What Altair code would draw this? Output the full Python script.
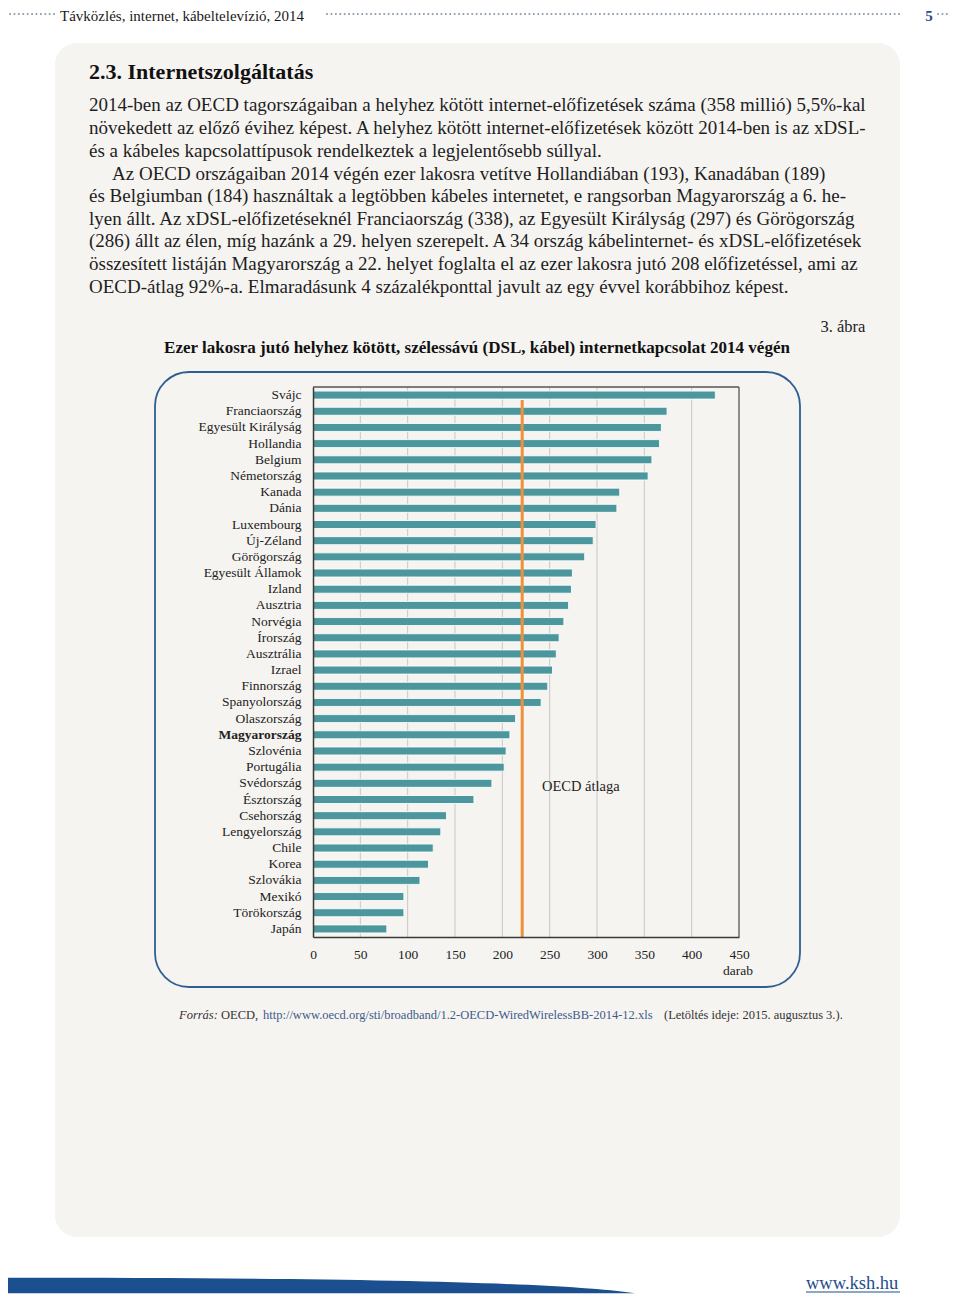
import altair as alt
import pandas as pd

# ---------------- data ----------------
countries = ["Svájc", "Franciaország", "Egyesült Királyság", "Hollandia", "Belgium",
             "Németország", "Kanada", "Dánia", "Luxembourg", "Új-Zéland", "Görögország",
             "Egyesült Államok", "Izland", "Ausztria", "Norvégia", "Írország", "Ausztrália",
             "Izrael", "Finnország", "Spanyolország", "Olaszország", "Magyarország",
             "Szlovénia", "Portugália", "Svédország", "Észtország", "Csehország",
             "Lengyelország", "Chile", "Korea", "Szlovákia", "Mexikó", "Törökország", "Japán"]
values = [425, 374, 368, 366, 358, 354, 324, 321, 299, 296, 287, 274, 273, 270, 265, 260,
          257, 253, 248, 241, 214, 208, 204, 202, 189, 170, 141, 135, 127, 122, 113, 96, 96, 78]
oecd_avg = 221
x_ticks = [0, 50, 100, 150, 200, 250, 300, 350, 400, 450]
grid_vals = [50, 100, 150, 200, 250, 300, 350, 400]

header = "Távközlés, internet, kábeltelevízió, 2014"
page_no = "5"
section = "2.3. Internetszolgáltatás"
para_lines = [
    "2014-ben az OECD tagországaiban a helyhez kötött internet-előfizetések száma (358 millió) 5,5%-kal",
    "növekedett az előző évihez képest. A helyhez kötött internet-előfizetések között 2014-ben is az xDSL-",
    "és a kábeles kapcsolattípusok rendelkeztek a legjelentősebb súllyal.",
    "Az OECD országaiban 2014 végén ezer lakosra vetítve Hollandiában (193), Kanadában (189)",
    "és Belgiumban (184) használtak a legtöbben kábeles internetet, e rangsorban Magyarország a 6. he-",
    "lyen állt. Az xDSL-előfizetéseknél Franciaország (338), az Egyesült Királyság (297) és Görögország",
    "(286) állt az élen, míg hazánk a 29. helyen szerepelt. A 34 ország kábelinternet- és xDSL-előfizetések",
    "összesített listáján Magyarország a 22. helyet foglalta el az ezer lakosra jutó 208 előfizetéssel, ami az",
    "OECD-átlag 92%-a. Elmaradásunk 4 százalékponttal javult az egy évvel korábbihoz képest.",
]
fig_no = "3. ábra"
chart_title = "Ezer lakosra jutó helyhez kötött, szélessávú (DSL, kábel) internetkapcsolat 2014 végén"
avg_label = "OECD átlaga"
unit_label = "darab"
src_parts = ["Forrás:", "OECD,", "http://www.oecd.org/sti/broadband/1.2-OECD-WiredWirelessBB-2014-12.xls",
             "(Letöltés ideje: 2015. augusztus 3.)."]
site = "www.ksh.hu"

SERIF = "Liberation Serif"
OX, OY = 313, 387          # page position of the plot origin
W, H = 426, 550

df = pd.DataFrame({"country": countries, "value": values})
one = pd.DataFrame({"a": [0]})
grid_df = pd.DataFrame({"value": grid_vals})


def X(px):
    return alt.value(px - OX)


def Y(py):
    return alt.value(py - OY)


def txt(s, x, y, size=17, weight="normal", color="#222222", align="left", style="normal"):
    return alt.Chart(one).mark_text(
        text=s, fontSize=size, fontWeight=weight, color=color, align=align,
        baseline="middle", font=SERIF, fontStyle=style
    ).encode(x=X(x), y=Y(y))


def box(x1, y1, x2, y2, fill, stroke=None, sw=0, r=0):
    kw = dict(fill=fill, cornerRadius=r)
    if stroke:
        kw.update(stroke=stroke, strokeWidth=sw)
    return alt.Chart(one).mark_rect(**kw).encode(x=X(x1), x2=X(x2), y=Y(y1), y2=Y(y2))


def line(x1, y1, x2, y2, color, sw=1, dash=None):
    kw = dict(color=color, strokeWidth=sw)
    if dash:
        kw.update(strokeDash=dash, strokeCap="round")
    return alt.Chart(one).mark_rule(**kw).encode(x=X(x1), x2=X(x2), y=Y(y1), y2=Y(y2))


PANEL = "#f6f4f1"
layers = []
# page and panels
layers.append(box(8, 8, 952, 1294, "white"))
layers.append(box(55, 43, 900, 1237, PANEL, r=22))
layers.append(box(155, 372, 800, 987, PANEL, stroke="#2d5f93", sw=1.8, r=34))

# header
DOT = "#8d9cab"
layers.append(line(10, 14, 56, 14, DOT, 2, [0.1, 4.3]))
layers.append(line(327, 14, 900, 14, DOT, 2, [0.1, 4.3]))
layers.append(line(938, 14, 951, 14, DOT, 2, [0.1, 4.3]))
layers.append(txt(header, 60, 15.5, size=15, color="#1a1a1a"))
layers.append(txt(page_no, 929, 15.5, size=15, weight="bold", color="#1f4e8c", align="center"))

# section title and paragraphs
layers.append(txt(section, 89, 72, size=22, weight="bold", color="#111111"))
line_y = [105, 128, 151, 174, 196, 219, 241, 264, 287]
for i, (s, y) in enumerate(zip(para_lines, line_y)):
    layers.append(txt(s, 112 if i == 3 else 89, y, size=19, color="#1e1e1e"))

layers.append(txt(fig_no, 843, 327, size=16.5, align="center", color="#1e1e1e"))
layers.append(txt(chart_title, 477, 348, size=17, weight="bold", align="center", color="#111111"))

# shared x scale / axis
x_scale = alt.Scale(domain=[0, 450], nice=False)
x_axis = alt.Axis(values=x_ticks, grid=False, ticks=False, labelPadding=10, labelFontSize=13.5,
                  labelFont=SERIF, labelColor="#222222", domainColor="#3a3a3a", domainWidth=1.5,
                  title=None, zindex=1, labelFlush=False)

# grid
grid = alt.Chart(grid_df).mark_rule(color="#c9c7c4", strokeWidth=1).encode(
    x=alt.X("value:Q", scale=x_scale, axis=x_axis)
)
layers.append(grid)

# bars
bars = alt.Chart(df).mark_bar(size=8, color="#4b979d", stroke="#ffffff", strokeWidth=1, strokeOpacity=0.85).encode(
    x=alt.X("value:Q", scale=x_scale, axis=x_axis),
    y=alt.Y("country:N", sort=countries, scale=alt.Scale(paddingInner=0, paddingOuter=0),
            axis=alt.Axis(title=None, ticks=False, labelPadding=12, labelFontSize=13.5, labelFont=SERIF,
                          labelColor="#222222", domainColor="#3a3a3a", domainWidth=1.5, zindex=1,
                          labelLimit=250,
                          labelFontWeight={"expr": "datum.value === 'Magyarország' ? 'bold' : 'normal'"})),
)
layers.append(bars)

# OECD average rule
avg = alt.Chart(one).mark_rule(color="#f0913a", strokeWidth=3).encode(
    x=alt.datum(oecd_avg), y=Y(400), y2=Y(937)
)
layers.append(avg)

# frame top / right
layers.append(line(313, 387, 739, 387, "#555555", 1.3))
layers.append(line(739, 387, 739, 937, "#555555", 1.3))

layers.append(txt(avg_label, 542, 787, size=14.5, color="#1e1e1e"))
layers.append(txt(unit_label, 738, 971, size=13.5, align="center", color="#222222"))

# source line
layers.append(txt(src_parts[0], 179, 1015, size=12.5, style="italic", color="#333333"))
layers.append(txt(src_parts[1], 221, 1015, size=12.5, color="#333333"))
layers.append(txt(src_parts[2], 263, 1015, size=12.5, color="#3d5b8c"))
layers.append(txt(src_parts[3], 664, 1015, size=12.5, color="#333333"))

# footer
swoosh_path = "M -1 -0.026 C -0.1 -0.026 0.7 -0.018 1 0.023 L -1 0.023 Z"
swoosh = alt.Chart(one).mark_point(shape=swoosh_path, size=393129, filled=True, color="#1b4f8f",
                                   opacity=1, strokeWidth=0).encode(x=X(321.5), y=Y(1286))
layers.append(swoosh)
layers.append(txt(site, 806, 1283, size=18.5, color="#1f4e8c"))
layers.append(line(806, 1292, 900, 1292, "#1f4e8c", 1))

chart = alt.layer(*layers).properties(
    width=W, height=H, padding=0, background="white"
).configure_view(stroke=None)

chart.save("out.html", embed_options={"renderer": "svg", "actions": False})
